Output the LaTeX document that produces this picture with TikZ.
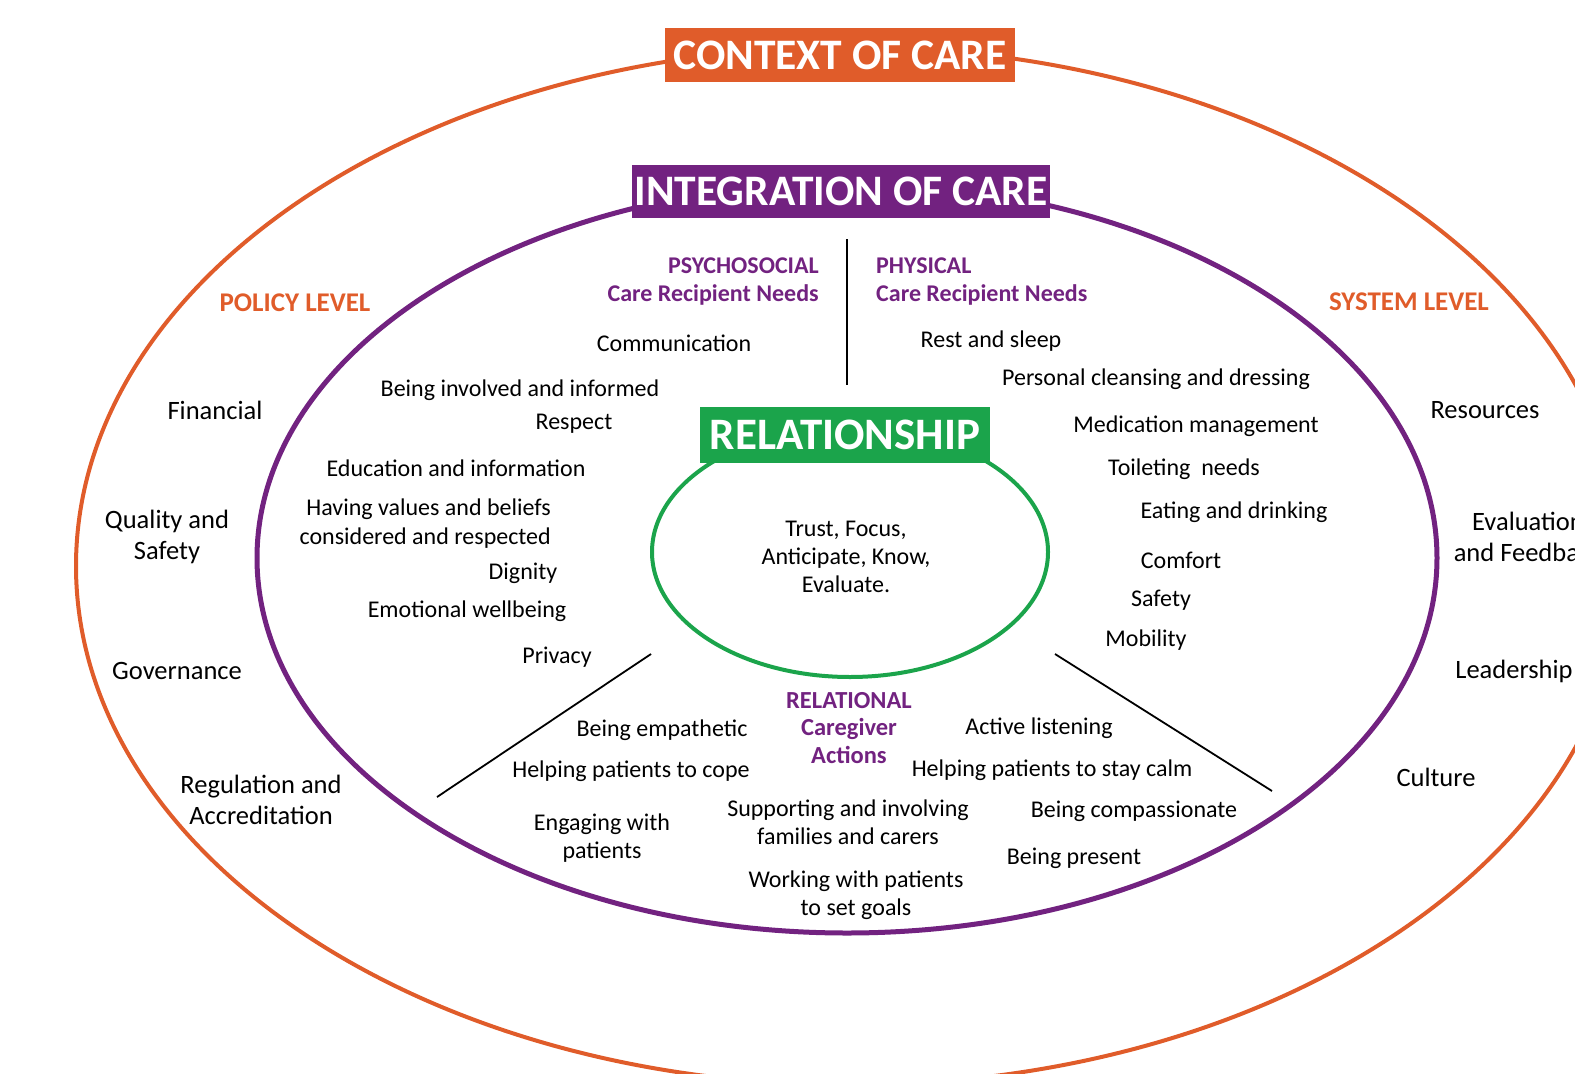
\documentclass[tikz,border=0pt]{standalone}
\usepackage{fontspec}
\setmainfont{Carlito}
\definecolor{careorange}{RGB}{224,92,42}
\definecolor{carepurple}{RGB}{114,34,128}
\definecolor{caregreen}{RGB}{27,164,75}
\tikzset{
  titlebox/.style={fill=#1, text=white, inner sep=0pt,
    font=\fontsize{43.5}{46}\selectfont\bfseries},
  heading/.style={text=#1, inner sep=0pt, align=center,
    font=\fontsize{24}{28}\selectfont\bfseries},
  level/.style={text=careorange, inner sep=0pt,
    font=\fontsize{27}{30}\selectfont\bfseries},
  item/.style={inner sep=0pt, align=center, font=\fontsize{24}{29}\selectfont},
  outer/.style={inner sep=0pt, align=center, font=\fontsize{26.5}{31}\selectfont},
  divider/.style={draw=black, line width=1.8pt}
}
\begin{document}
\begin{tikzpicture}[x=1pt, y=-1pt]
\useasboundingbox (0,0) rectangle (1575,1074);
% rings
\draw[careorange, line width=4pt] (850,566) ellipse [x radius=774, y radius=519];
\draw[carepurple, line width=5pt] (847,558) ellipse [x radius=590, y radius=375];
\draw[caregreen, line width=4pt] (850,552) ellipse [x radius=198, y radius=125];
% titles
\node[titlebox=careorange, minimum width=350pt, minimum height=54pt] (context) at (840,55) {CONTEXT OF CARE};
\node[titlebox=carepurple, minimum width=418pt, minimum height=53pt] (integration) at (841,191) {INTEGRATION OF CARE};
\node[titlebox=caregreen, minimum width=290pt, minimum height=56pt, font=\fontsize{45}{48}\selectfont\bfseries] (relationship) at (845,435) {RELATIONSHIP};
% dividers
\coordinate (vtop) at (847,239);
\coordinate (vbot) at (847,385);
\coordinate (ltop) at (651,654);
\coordinate (lbot) at (437,797);
\coordinate (rtop) at (1055,654);
\coordinate (rbot) at (1272,791);
\draw[divider] (vtop) -- (vbot);
\draw[divider] (ltop) -- (lbot);
\draw[divider] (rtop) -- (rbot);
% policy and system level
\node[level] (policy) at (295,303) {POLICY LEVEL};
\node[level] (system) at (1409,302) {SYSTEM LEVEL};
\node[outer] (financial) at (215,410) {Financial};
\node[outer] (quality) at (167,537) {Quality and\\Safety};
\node[outer] (governance) at (177,671) {Governance};
\node[outer] (regulation) at (261,800) {Regulation and\\Accreditation};
\node[outer] (resources) at (1485,410) {Resources};
\node[outer] (evaluation) at (1528,537) {Evaluation\\and Feedback};
\node[outer] (leadership) at (1514,671) {Leadership};
\node[outer] (culture) at (1436,777) {Culture};
% psychosocial needs
\node[heading=carepurple, anchor=east, align=right] (psycho) at (819,282) {PSYCHOSOCIAL\\Care Recipient Needs};
\node[item] (communication) at (674,343) {Communication};
\node[item] (involved) at (520,390) {Being involved and informed};
\node[item] (respect) at (574,424) {Respect};
\node[item] (education) at (456,468) {Education and information};
\node[item, anchor=east, align=right] (values) at (551,524) {Having values and beliefs\\considered and respected};
\node[item] (dignity) at (523,573) {Dignity};
\node[item] (emotional) at (467,611) {Emotional wellbeing};
\node[item] (privacy) at (557,657) {Privacy};
% physical needs
\node[heading=carepurple, anchor=west, align=left] (physical) at (876,282) {PHYSICAL\\Care Recipient Needs};
\node[item] (rest) at (991,341) {Rest and sleep};
\node[item] (cleansing) at (1156,379) {Personal cleansing and dressing};
\node[item] (medication) at (1196,426) {Medication management};
\node[item] (toileting) at (1184,469) {Toileting\ \ needs};
\node[item] (eating) at (1234,512) {Eating and drinking};
\node[item] (comfort) at (1181,560) {Comfort};
\node[item] (safety) at (1161,600) {Safety};
\node[item] (mobility) at (1146,640) {Mobility};
% relationship core
\node[item, font=\fontsize{24}{28}\selectfont] (core) at (846,557) {Trust, Focus,\\Anticipate, Know,\\Evaluate.};
% relational actions
\node[heading=carepurple, font=\fontsize{24.5}{27.5}\selectfont\bfseries] (relational) at (849,728) {RELATIONAL\\Caregiver\\Actions};
\node[item] (empathetic) at (662,730) {Being empathetic};
\node[item] (cope) at (631,771) {Helping patients to cope};
\node[item, font=\fontsize{24}{28}\selectfont] (engaging) at (602,838) {Engaging with\\patients};
\node[item, font=\fontsize{24}{28}\selectfont] (supporting) at (848,822) {Supporting and involving\\families and carers};
\node[item, font=\fontsize{24}{28}\selectfont] (goals) at (856,895) {Working with patients\\to set goals};
\node[item] (listening) at (1039,728) {Active listening};
\node[item] (calm) at (1052,770) {Helping patients to stay calm};
\node[item] (compassionate) at (1134,811) {Being compassionate};
\node[item] (present) at (1074,858) {Being present};
\end{tikzpicture}
\end{document}
